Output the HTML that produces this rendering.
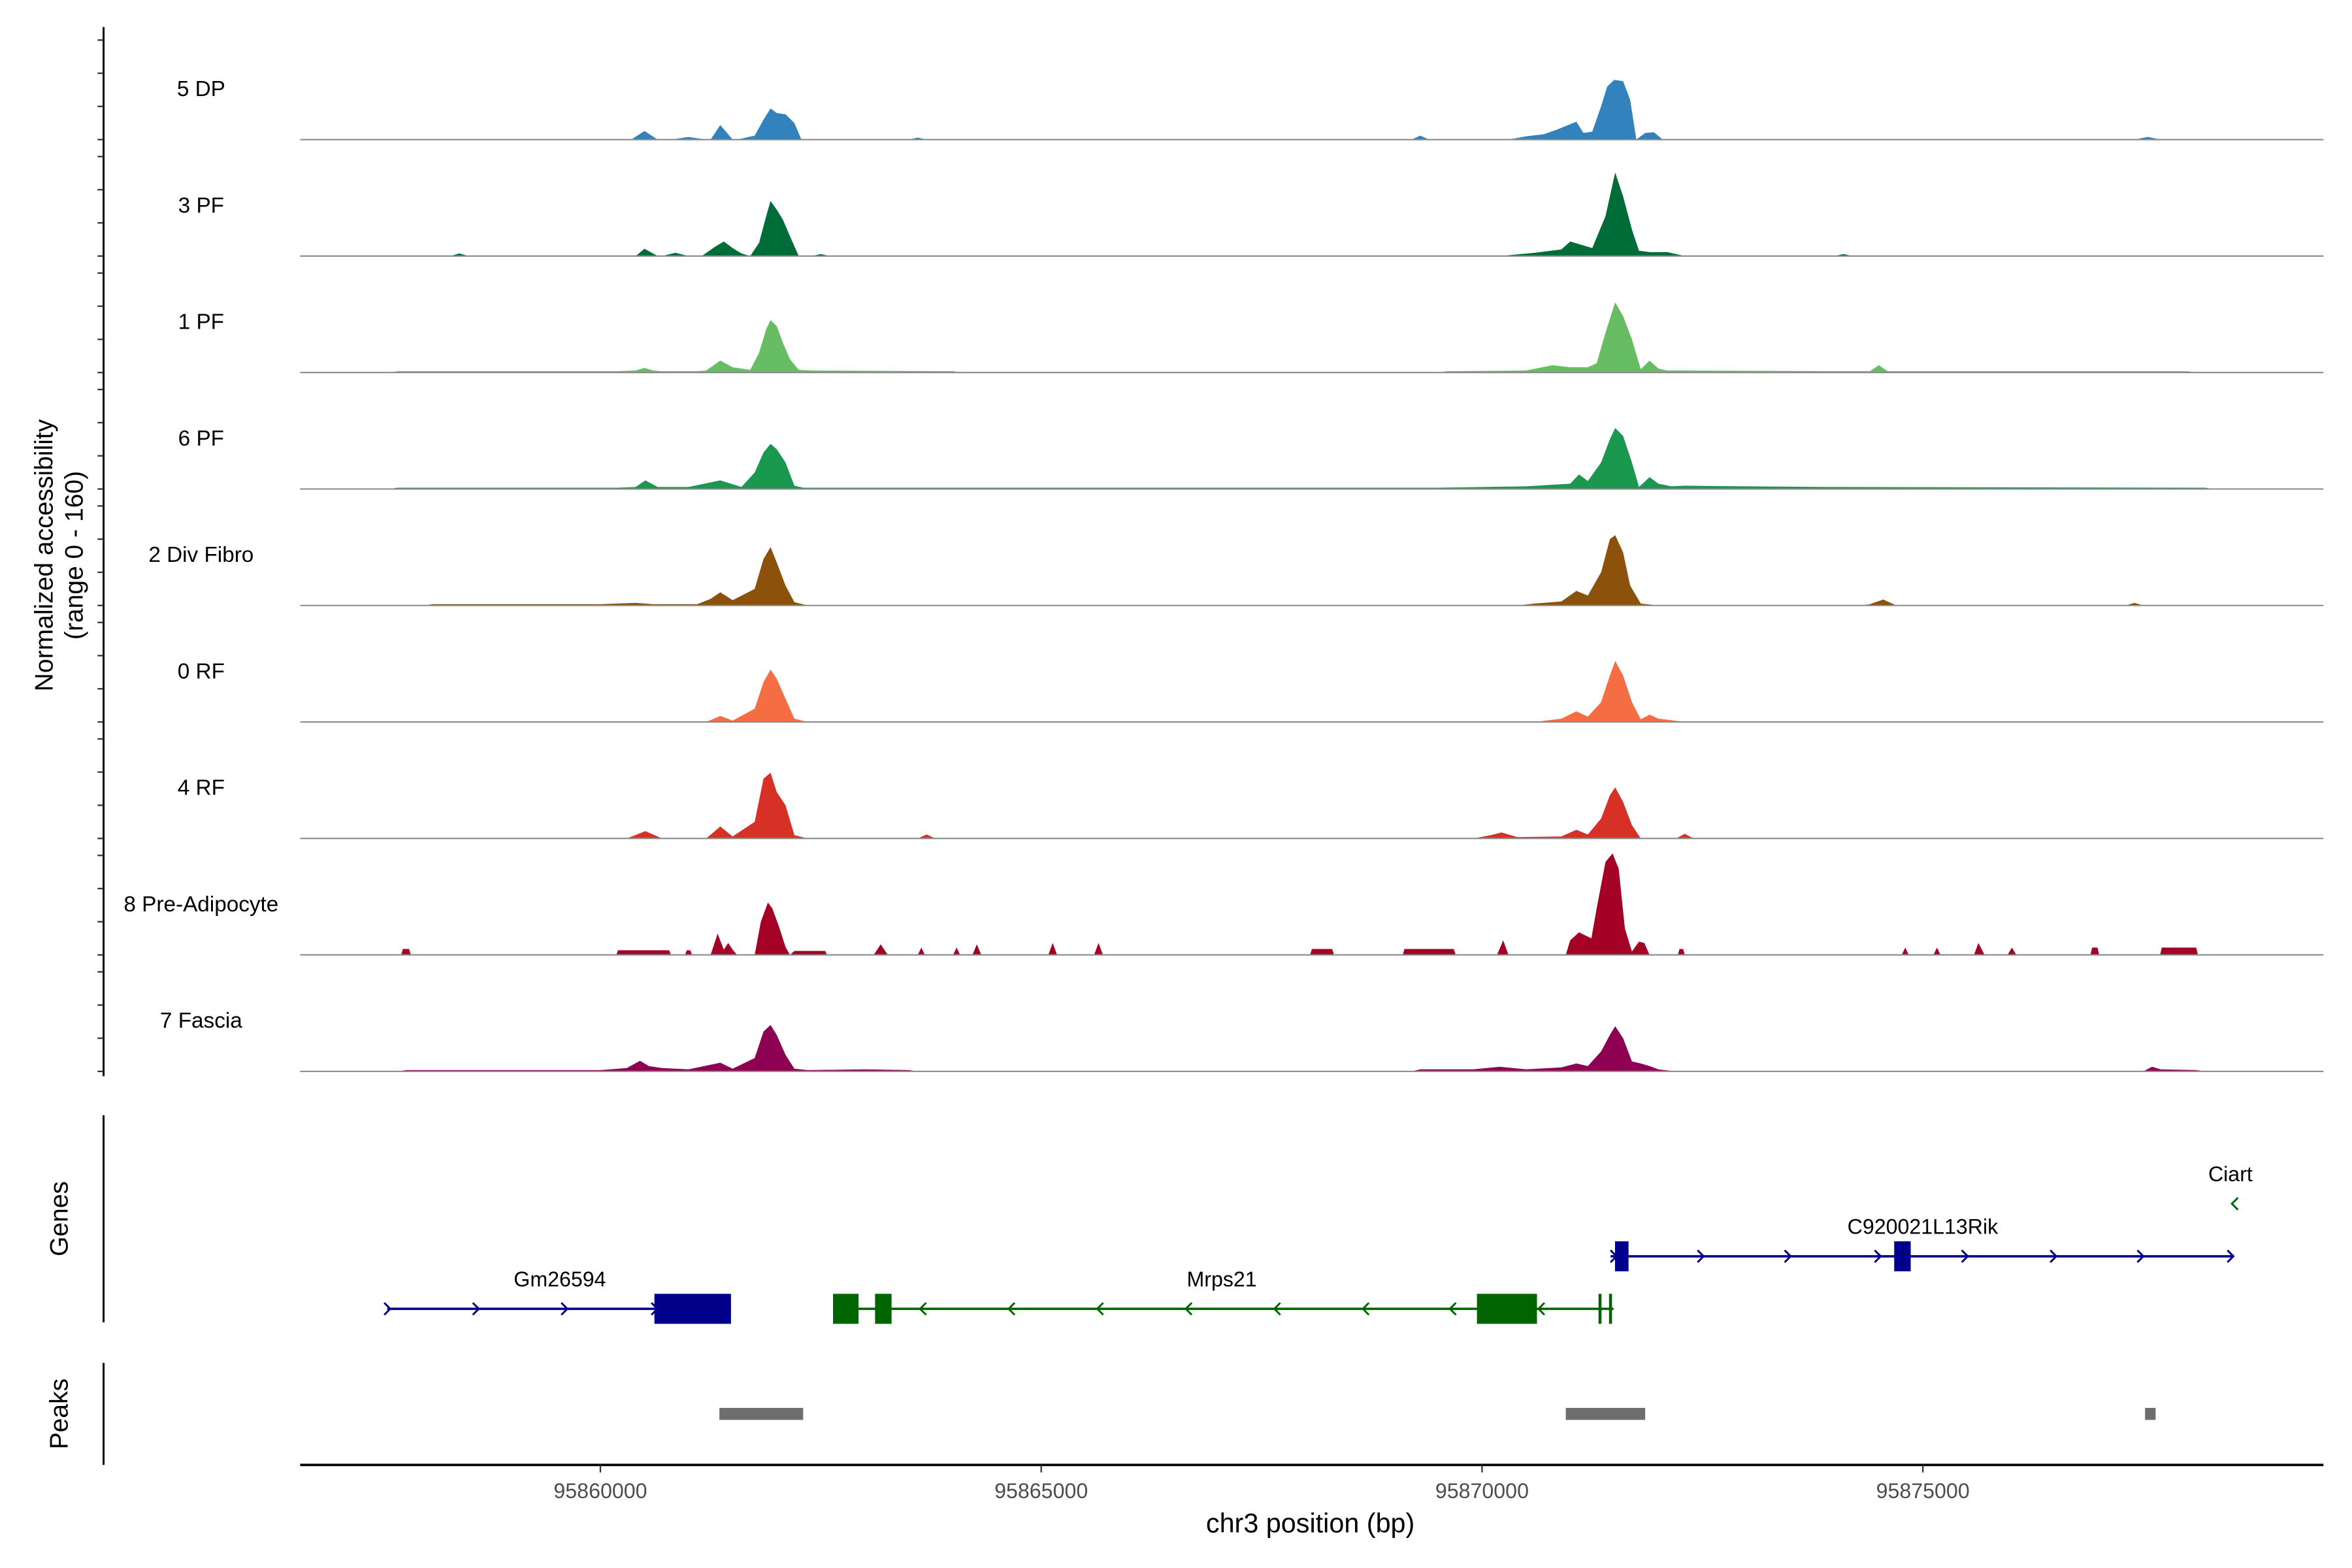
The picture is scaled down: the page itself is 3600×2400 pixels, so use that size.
<!DOCTYPE html>
<html><head><meta charset="utf-8"><style>
html,body{margin:0;padding:0;background:#fff;}
svg{display:block;}
text{font-family:"Liberation Sans",Arial,sans-serif;}
</style></head><body>
<svg id="chart" xmlns="http://www.w3.org/2000/svg" width="3600" height="2400" viewBox="0 0 1567 1044.67">
<rect x="0" y="0" width="1567" height="1045" fill="#fff"/>
<g id="tracks"></g>
<g id="yaxis"></g>
<text transform="translate(35,370) rotate(-90)" text-anchor="middle" font-size="17">Normalized accessibility</text>
<text transform="translate(55,370) rotate(-90)" text-anchor="middle" font-size="17">(range 0 - 160)</text>
<line x1="69" y1="743" x2="69" y2="881" stroke="#000" stroke-width="1.3"/>
<text transform="translate(45,812) rotate(-90)" text-anchor="middle" font-size="17">Genes</text>
<line x1="69" y1="908" x2="69" y2="976" stroke="#000" stroke-width="1.3"/>
<text transform="translate(45,942) rotate(-90)" text-anchor="middle" font-size="17">Peaks</text>
<g id="genes"></g>
<g id="peaks"></g>
<g id="xaxis"></g>
<text x="873" y="1021" text-anchor="middle" font-size="18">chr3 position (bp)</text>
</svg>
<script>
const trackNames = ["5 DP","3 PF","1 PF","6 PF","2 Div Fibro","0 RF","4 RF","8 Pre-Adipocyte","7 Fascia"];
const trackColors = ["#3182bd","#006d38","#66bd63","#1a9850","#8c510a","#f46d43","#d73027","#a50026","#8e0152"];
const xTicks = [95860000,95865000,95870000,95875000];
const yMax = 160;
const pos_dp = [95860.35,95860.5,95860.65,95860.8,95861.0,95861.2,95861.25,95861.36,95861.5,95861.55,95861.75,95861.85,95861.93,95862.0,95862.1,95862.2,95862.28,95863.5,95863.6,95863.7,95869.2,95869.3,95869.4,95870.3,95870.5,95870.7,95870.85,95871.07,95871.15,95871.25,95871.35,95871.42,95871.5,95871.6,95871.68,95871.75,95871.85,95871.95,95872.05,95877.4,95877.55,95877.7];
const val_dp = [0,13,0,0,4,0,0,22,0,0,6,30,47,40,38,25,0,0,3,0,0,6,0,0,5,8,15,27,10,12,50,80,90,88,60,0,10,11,0,0,4,0];
const pos_pf3 = [95858.3,95858.4,95858.5,95860.4,95860.5,95860.65,95860.7,95860.85,95861.0,95861.15,95861.3,95861.4,95861.5,95861.6,95861.7,95861.8,95861.88,95861.93,95862.0,95862.07,95862.15,95862.25,95862.4,95862.5,95862.6,95870.2,95870.6,95870.9,95871.0,95871.1,95871.25,95871.4,95871.51,95871.6,95871.7,95871.78,95871.9,95872.1,95872.3,95874.0,95874.1,95874.2];
const val_pf3 = [0,4,0,0,11,0,0,5,0,0,14,22,12,4,0,20,60,83,70,55,30,0,0,3,0,0,5,10,22,18,12,60,126,90,40,8,6,6,0,0,3,0];
const pos_pf1 = [95857.6,95857.7,95860.2,95860.4,95860.5,95860.6,95860.7,95861.1,95861.2,95861.36,95861.5,95861.7,95861.8,95861.88,95861.93,95862.0,95862.07,95862.15,95862.25,95862.4,95864.0,95864.1,95869.5,95869.6,95870.5,95870.8,95871.0,95871.2,95871.3,95871.4,95871.51,95871.6,95871.7,95871.8,95871.9,95872.0,95872.1,95872.3,95874.4,95874.5,95874.6,95874.8,95878.0,95878.1];
const val_pf1 = [0,2,2,3,7,3,2,2,3,18,8,4,30,65,79,70,45,20,4,3,2,0,0,2,3,11,8,8,14,60,106,85,50,5,18,6,3,3,2,11,2,2,2,0];
const pos_pf6 = [95857.6,95857.7,95860.2,95860.4,95860.51,95860.65,95861.0,95861.36,95861.6,95861.75,95861.85,95861.93,95862.0,95862.1,95862.2,95862.3,95864.0,95866.0,95869.5,95870.5,95871.0,95871.1,95871.2,95871.35,95871.45,95871.51,95871.6,95871.7,95871.78,95871.9,95872.0,95872.15,95872.3,95873.0,95874.0,95878.2,95878.3];
const val_pf6 = [0,2,2,3,13,3,3,13,3,25,55,68,60,40,5,2,2,2,2,4,8,22,12,40,75,92,80,40,3,18,8,4,5,4,3,2,0];
const pos_div = [95858.0,95858.1,95860.0,95860.4,95860.6,95861.1,95861.25,95861.36,95861.5,95861.75,95861.85,95861.93,95862.0,95862.1,95862.2,95862.35,95870.4,95870.6,95870.9,95871.07,95871.2,95871.35,95871.45,95871.51,95871.6,95871.68,95871.8,95872.0,95874.3,95874.4,95874.55,95874.7,95877.3,95877.4,95877.5];
const val_div = [0,2,2,4,2,2,10,20,8,25,70,88,65,30,5,0,0,3,6,22,15,50,100,106,80,30,3,0,0,2,9,0,0,4,0];
const pos_rf0 = [95861.2,95861.36,95861.5,95861.75,95861.85,95861.93,95862.0,95862.1,95862.2,95862.35,95870.6,95870.9,95871.07,95871.2,95871.35,95871.45,95871.51,95871.6,95871.7,95871.8,95871.9,95872.0,95872.3];
const val_rf0 = [0,9,2,20,60,79,65,35,5,0,0,5,16,8,30,70,92,70,30,4,11,5,0];
const pos_rf4 = [95860.3,95860.51,95860.7,95861.2,95861.36,95861.5,95861.75,95861.85,95861.93,95862.0,95862.1,95862.2,95862.35,95863.6,95863.7,95863.8,95869.9,95870.1,95870.22,95870.4,95870.9,95871.07,95871.2,95871.35,95871.45,95871.51,95871.6,95871.7,95871.8,95872.2,95872.3,95872.4];
const val_rf4 = [0,11,0,0,18,3,25,90,99,70,50,5,0,0,6,0,0,5,9,2,3,13,6,30,65,77,55,20,0,0,7,0];
const pos_adi = [95857.74,95857.76,95857.83,95857.85,95860.18,95860.2,95860.78,95860.8,95860.96,95860.98,95861.02,95861.04,95861.25,95861.33,95861.4,95861.45,95861.5,95861.55,95861.75,95861.82,95861.9,95861.95,95862.02,95862.1,95862.15,95862.2,95862.55,95862.57,95863.1,95863.18,95863.26,95863.6,95863.64,95863.68,95864.0,95864.04,95864.08,95864.22,95864.27,95864.32,95865.08,95865.13,95865.18,95865.6,95865.65,95865.7,95868.05,95868.07,95868.3,95868.32,95869.1,95869.12,95869.68,95869.7,95870.17,95870.24,95870.3,95870.95,95871.0,95871.1,95871.24,95871.3,95871.4,95871.48,95871.55,95871.62,95871.7,95871.78,95871.84,95871.9,95872.22,95872.24,95872.28,95872.3,95874.76,95874.8,95874.84,95875.12,95875.16,95875.2,95875.58,95875.63,95875.7,95875.96,95876.01,95876.06,95876.9,95876.92,95876.98,95877.0,95877.69,95877.71,95878.1,95878.12];
const val_adi = [0,9,9,0,0,7,7,0,0,7,7,0,0,32,8,18,8,0,0,50,79,70,45,12,0,6,6,0,0,16,0,0,11,0,0,11,0,0,16,0,0,18,0,0,18,0,0,9,9,0,0,9,9,0,0,22,0,0,22,34,25,70,140,153,130,40,5,20,18,0,0,9,9,0,0,11,0,0,11,0,0,18,0,0,11,0,0,11,11,0,0,11,11,0];
const pos_fas = [95857.7,95857.8,95860.0,95860.3,95860.45,95860.55,95860.7,95861.0,95861.36,95861.5,95861.75,95861.85,95861.93,95862.0,95862.1,95862.2,95862.35,95863.0,95863.5,95863.6,95869.2,95869.3,95869.9,95870.2,95870.5,95870.9,95871.07,95871.2,95871.35,95871.45,95871.51,95871.6,95871.7,95871.8,95871.9,95872.0,95872.2,95877.5,95877.6,95877.7,95878.1,95878.2];
const val_fas = [0,2,2,5,16,8,5,3,13,4,20,60,70,55,25,4,2,3,2,0,0,3,3,7,3,6,12,8,30,55,68,50,15,12,8,3,0,0,7,3,2,0];
const trackPos = [pos_dp,pos_pf3,pos_pf1,pos_pf6,pos_div,pos_rf0,pos_rf4,pos_adi,pos_fas];
const trackVal = [val_dp,val_pf3,val_pf1,val_pf6,val_div,val_rf0,val_rf4,val_adi,val_fas];
const peakStarts = [95861350,95870950,95877520];
const peakEnds = [95862300,95871850,95877640];

const NS = "http://www.w3.org/2000/svg";
const X0 = 400, BP0 = 95860000, PXPERBP = 293.7/5000;
function xScale(bp){ return X0 + (bp - BP0) * PXPERBP; }
const firstBase = 93, trackStep = 77.6, pxPerUnit = 0.442;
function yScale(v, base){ return base - v * pxPerUnit; }
function mk(tag, attrs, parent){ const e=document.createElementNS(NS,tag); for(const k in attrs) e.setAttribute(k,attrs[k]); parent.appendChild(e); return e; }

const tracksG = document.getElementById('tracks');
trackNames.forEach((name,i)=>{
  const base = firstBase + i*trackStep;
  const g = mk('g',{},tracksG);
  
  
  const pos = trackPos[i], val = trackVal[i];
  const n = Math.min(pos.length, val.length);
  let d = 'M' + xScale(pos[0]*1000).toFixed(2) + ',' + base;
  for(let j=0;j<n;j++){ d += 'L' + xScale(pos[j]*1000).toFixed(2) + ',' + yScale(val[j],base).toFixed(2); }
  d += 'L' + xScale(pos[n-1]*1000).toFixed(2) + ',' + base + 'Z';
  const p = mk('path',{d:d, fill:trackColors[i]},g);
  
  
  const l = mk('line',{x1:200,x2:1548,y1:base,y2:base,stroke:'#8a8a8a','stroke-width':0.9},g);
  
  
  const t = mk('text',{x:134,y:base-29,'text-anchor':'middle','font-size':14.5,fill:'#000'},g);
  t.textContent = name;
  
  
});

const yG = document.getElementById('yaxis');
mk('line',{x1:69,x2:69,y1:18,y2:717,stroke:'#000','stroke-width':1.3},yG);
trackNames.forEach((n,i)=>{
  const base = firstBase + i*trackStep;
  [0,50,100,150].forEach(v=>{
    const tk = mk('line',{x1:65,x2:69,y1:yScale(v,base),y2:yScale(v,base),stroke:'#333','stroke-width':1},yG);
    
    
  });
});

const gG = document.getElementById('genes');
function chevrons(xs, y, dir, color, parent){
  xs.forEach(x=>{
    const d = dir>0 ? `M${x-3},${y-4}L${x+1},${y}L${x-3},${y+4}` : `M${x+3},${y-4}L${x-1},${y}L${x+3},${y+4}`;
    mk('path',{d:d,fill:'none',stroke:color,'stroke-width':1.3},parent);
  });
}
const blue='#00008b', green='#006400';
let g1 = mk('g',{},gG);


mk('line',{x1:258,x2:487,y1:872,y2:872,stroke:blue,'stroke-width':1.6},g1);
chevrons([259,318,377,437],872,1,blue,g1);
mk('rect',{x:436,y:862,width:51,height:20,fill:blue},g1);
mk('text',{x:373,y:857,'text-anchor':'middle','font-size':14}, g1).textContent='Gm26594';
let g2 = mk('g',{},gG);


mk('line',{x1:555,x2:1075,y1:872,y2:872,stroke:green,'stroke-width':1.6},g2);
chevrons([614,673,732,791,850,909,967,1026],872,-1,green,g2);
mk('rect',{x:555,y:862,width:17,height:20,fill:green},g2);
mk('rect',{x:583,y:862,width:11,height:20,fill:green},g2);
mk('rect',{x:984,y:862,width:40,height:20,fill:green},g2);
mk('rect',{x:1065,y:862,width:2,height:20,fill:green},g2);
mk('rect',{x:1072,y:862,width:2,height:20,fill:green},g2);
mk('text',{x:814,y:857,'text-anchor':'middle','font-size':14}, g2).textContent='Mrps21';
let g3 = mk('g',{},gG);


mk('line',{x1:1073,x2:1488,y1:837,y2:837,stroke:blue,'stroke-width':1.6},g3);
chevrons([1076,1134,1192,1252,1310,1369,1427,1487],837,1,blue,g3);
mk('rect',{x:1076,y:827,width:9,height:20,fill:blue},g3);
mk('rect',{x:1262,y:827,width:11,height:20,fill:blue},g3);
mk('text',{x:1281,y:822,'text-anchor':'middle','font-size':14}, g3).textContent='C920021L13Rik';
let g4 = mk('g',{},gG);


chevrons([1488],802,-1,green,g4);
mk('text',{x:1486,y:787,'text-anchor':'middle','font-size':14}, g4).textContent='Ciart';

const pG = document.getElementById('peaks');
peakStarts.forEach((s,i)=>{
  const r = mk('rect',{x:xScale(s),y:938,width:xScale(peakEnds[i])-xScale(s),height:8,fill:'#6e6e6e'},pG);
  
  
});

const xG = document.getElementById('xaxis');
mk('line',{x1:200,x2:1548,y1:976,y2:976,stroke:'#000','stroke-width':1.6},xG);
xTicks.forEach(t=>{
  const x = xScale(t);
  mk('line',{x1:x,x2:x,y1:976,y2:981,stroke:'#333','stroke-width':1},xG);
  const tx = mk('text',{x:x,y:998,'text-anchor':'middle','font-size':14,fill:'#4d4d4d'},xG);
  tx.textContent = String(t);
  
  
});
</script>
</body></html>
